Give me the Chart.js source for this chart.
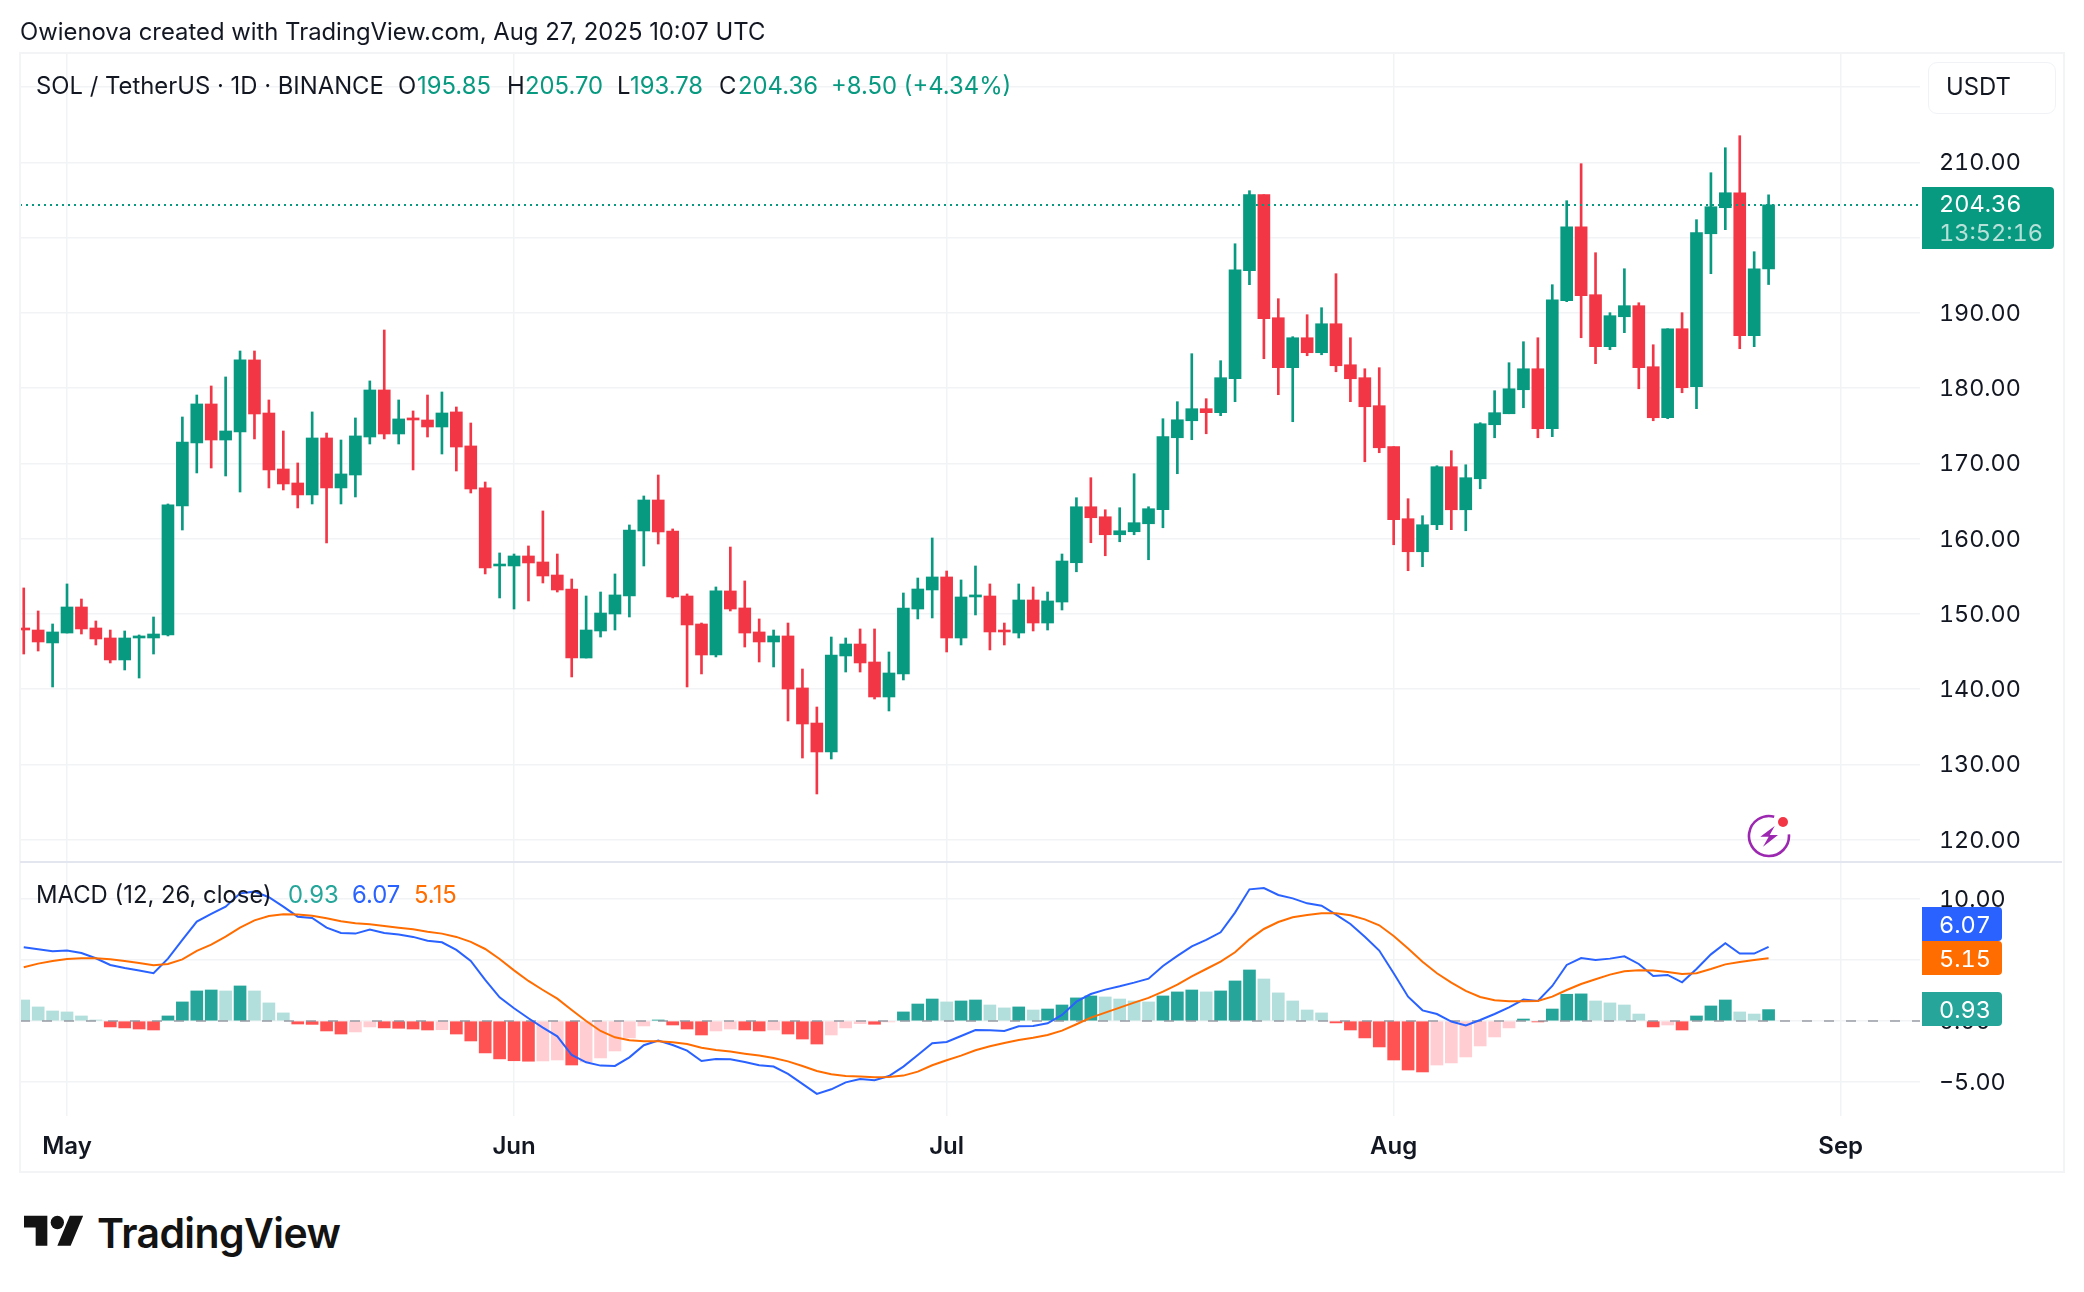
<!DOCTYPE html>
<html><head><meta charset="utf-8"><title>SOL / TetherUS</title>
<script src="https://cdn.jsdelivr.net/npm/chart.js@4/dist/chart.umd.min.js"></script>
<style>
html,body{margin:0;padding:0;background:#fff;width:2084px;height:1292px;overflow:hidden}
canvas{position:absolute;left:0;font-feature-settings:"tnum";font-variant-numeric:tabular-nums}
.t{position:absolute;white-space:pre;font:400 23.85px Inter,sans-serif;line-height:28px;color:#131722}
.n{font-size:23.5px;font-feature-settings:"tnum"}
.g{color:#089981}
.box{position:absolute;left:1922px;border-radius:0 4px 4px 0}
</style></head><body>
<canvas id="price" width="2084" height="862" style="top:0"></canvas>
<canvas id="macd" width="2084" height="311" style="top:862px"></canvas>
<div style="position:absolute;left:19px;top:52px;width:2042px;height:1117px;border:2px solid #f3f4f6;pointer-events:none"></div>
<div style="position:absolute;left:20px;top:861px;width:2042px;height:2px;background:#e3e6ee"></div>

<div class="t" style="left:20px;top:18px">Owienova created with TradingView.com, Aug 27, 2025 10:07 UTC</div>
<div class="t" style="left:36px;top:72px">SOL / TetherUS · 1D · BINANCE</div>
<div class="t" style="left:398px;top:72px">O</div><div class="t g" style="left:417px;top:72px">195.85</div>
<div class="t" style="left:507px;top:72px">H</div><div class="t g" style="left:525px;top:72px">205.70</div>
<div class="t" style="left:617px;top:72px">L</div><div class="t g" style="left:630px;top:72px">193.78</div>
<div class="t" style="left:719px;top:72px">C</div><div class="t g" style="left:738px;top:72px">204.36</div>
<div class="t g" style="left:831px;top:72px">+8.50 (+4.34%)</div>

<div style="position:absolute;left:1928px;top:62px;width:126px;height:50px;border:1.5px solid #f0f2f5;border-radius:9px;background:#fff"></div>
<div class="t" style="left:1946px;top:73px">USDT</div>

<div class="box" style="top:187px;height:62px;width:132px;background:#089981"></div>
<div class="t n" style="left:1939px;top:190px;color:#fff">204.36</div>
<div class="t n" style="left:1939px;top:219px;color:rgba(255,255,255,.7)">13:52:16</div>

<div class="t" style="left:36px;top:881px">MACD (12, 26, close)</div>
<div class="t" style="left:288px;top:881px;color:#26a69a">0.93</div>
<div class="t" style="left:352px;top:881px;color:#2962ff">6.07</div>
<div class="t" style="left:414px;top:881px;color:#ff6d00">5.15</div>

<div class="box" style="top:907px;height:34px;width:80px;background:#2962ff"></div>
<div class="t n" style="left:1939px;top:911px;color:#fff">6.07</div>
<div class="box" style="top:941px;height:34px;width:80px;background:#ff6d00"></div>
<div class="t n" style="left:1939px;top:945px;color:#fff">5.15</div>
<div class="box" style="top:992px;height:34px;width:80px;background:#26a69a"></div>
<div class="t n" style="left:1939px;top:996px;color:#fff">0.93</div>

<svg style="position:absolute;left:1745px;top:812px" width="48" height="48" viewBox="0 0 48 48">
<path d="M43.9 22.3A20 20 0 1 1 29.2 4.7" fill="none" stroke="#9c27b0" stroke-width="2.6"/>
<polygon points="29.7,14 15.3,24.7 23.7,24.7 18,34.7 33,23 24.7,23" fill="#9c27b0"/>
<circle cx="38" cy="10" r="5" fill="#f23645"/></svg>

<svg style="position:absolute;left:24px;top:1209px" width="60" height="47" viewBox="0 0 36 28">
<path d="M14 22H7V11H0V4h14v18zM28 22h-8l7.5-18h8L28 22z" fill="#131313"/><circle cx="20" cy="8" r="4" fill="#131313"/></svg>
<div class="t" style="left:97px;top:1208px;font-size:41px;line-height:50px;font-weight:600;color:#131313;letter-spacing:-.6px">TradingView</div>

<script>
const firstDay = -3;
const monthTickDays = [0, 31, 61, 92, 123];
const monthTickLabels = ['May', 'Jun', 'Jul', 'Aug', 'Sep'];
const priceTicks = [120, 130, 140, 150, 160, 170, 180, 190, 200, 210, 220];
const hiddenPriceTicks = [200, 220];
const macdTicks = [-5, 0, 5, 10];
const lastClose = 204.36;

const opens = [148.14,147.87,146.15,147.47,150.93,148.14,146.81,143.89,146.81,146.81,147.21,164.35,172.73,177.91,173.12,174.19,183.76,176.71,169.27,167.41,165.82,173.39,166.75,168.47,173.52,179.77,173.92,176.05,175.78,174.85,176.85,172.33,166.75,156.38,156.38,157.71,156.91,155.18,153.32,144.15,147.74,150.00,152.39,161.03,165.15,161.03,152.39,148.67,144.55,153.06,150.80,147.61,146.28,147.08,140.17,135.51,131.66,144.42,146.01,143.62,138.97,142.03,150.66,153.19,154.92,146.81,152.26,152.39,147.87,147.47,151.86,148.80,151.59,156.81,164.25,162.92,160.53,160.93,161.99,163.85,173.42,175.68,177.28,176.75,181.26,195.62,205.72,189.37,182.73,186.71,184.72,188.57,183.12,181.40,177.68,172.23,162.66,158.27,161.86,169.57,163.85,167.97,175.15,176.61,179.80,182.59,174.62,191.63,201.46,192.43,185.52,189.50,190.97,182.86,176.08,187.91,180.20,200.53,203.99,205.98,186.98,195.85];
const highs = [153.46,150.40,148.67,153.99,151.99,149.07,147.87,147.74,147.21,149.60,164.62,176.18,179.10,180.30,181.50,184.95,184.95,178.44,174.32,170.07,176.85,174.05,173.12,176.05,180.97,187.74,178.44,176.98,179.10,179.50,177.51,175.38,167.54,158.11,157.97,159.04,163.69,157.97,154.65,152.39,152.92,155.32,161.83,165.68,168.47,161.30,152.66,148.80,153.59,158.90,154.39,149.34,147.87,148.80,142.69,137.64,146.94,146.81,148.01,148.01,144.95,152.79,154.78,160.10,155.71,154.52,156.38,153.99,148.80,153.99,153.59,152.92,157.97,165.45,168.11,163.85,164.12,168.64,164.25,175.95,178.21,184.59,178.61,183.66,199.20,206.25,205.72,191.90,186.85,189.77,190.70,195.22,186.71,182.59,182.73,172.23,165.32,163.06,169.70,171.70,169.83,175.42,179.67,183.39,186.18,186.71,193.76,204.92,209.84,198.01,190.04,195.88,191.36,185.78,187.91,190.04,202.40,208.64,211.96,213.56,198.14,205.70];
const lows = [144.68,145.08,140.30,147.47,147.34,145.88,143.49,142.56,141.49,144.68,147.08,161.16,168.74,169.40,168.34,166.21,173.26,166.75,166.48,164.09,164.62,159.44,164.62,165.55,172.59,173.26,172.59,169.14,173.52,171.26,169.00,166.08,155.32,152.13,150.66,151.73,154.12,152.92,141.63,144.15,146.94,147.87,149.60,156.38,159.30,152.13,140.30,142.03,144.29,150.40,145.61,143.62,142.96,135.78,130.86,126.08,130.73,142.29,142.29,138.70,137.11,141.23,149.34,149.47,144.95,145.88,149.87,145.22,145.88,146.81,147.74,147.87,150.53,155.61,159.47,157.74,159.60,160.53,157.21,161.46,168.64,173.16,173.95,176.35,178.21,193.76,183.92,179.14,175.55,184.32,184.45,182.19,178.21,170.23,171.43,159.20,155.75,156.28,161.20,161.20,161.06,166.64,173.42,176.61,177.41,173.42,173.56,191.50,186.71,183.26,185.12,187.38,179.93,175.68,175.95,179.40,177.28,195.22,201.07,185.25,185.52,193.78];
const closes = [147.87,146.28,147.61,150.93,148.01,146.68,143.89,146.81,147.08,147.34,164.49,172.86,177.91,173.12,174.32,183.76,176.58,169.14,167.28,165.82,173.39,166.75,168.61,173.66,179.77,173.92,175.92,175.78,174.85,176.71,172.19,166.61,156.11,156.64,157.71,156.78,155.05,153.19,144.15,147.87,150.13,152.53,161.16,165.15,160.90,152.26,148.54,144.55,153.06,150.66,147.47,146.28,147.08,140.03,135.38,131.66,144.55,146.01,143.49,138.97,142.16,150.80,153.32,154.92,146.81,152.26,152.53,147.61,147.61,151.86,148.80,151.73,157.04,164.25,162.79,160.53,161.06,162.13,163.99,173.56,175.81,177.28,176.75,181.40,195.75,205.72,189.24,182.73,186.71,184.72,188.57,182.99,181.26,177.54,172.09,162.53,158.27,161.86,169.57,163.85,168.11,175.28,176.75,179.93,182.59,174.62,191.76,201.46,192.29,185.52,189.64,190.97,182.73,176.08,187.91,180.07,200.67,204.12,205.98,186.98,195.88,204.36];

const histogram = [1.72,1.15,.82,.74,.41,.08,-.49,-.57,-.66,-.74,.41,1.56,2.46,2.54,2.46,2.87,2.46,1.48,.66,-.25,-.28,-.82,-1.07,-.90,-.49,-.57,-.60,-.66,-.74,-.72,-1.07,-1.64,-2.62,-3.11,-3.26,-3.30,-3.28,-3.20,-3.61,-3.36,-3.03,-2.46,-1.39,-.41,.08,-.33,-.66,-1.15,-.82,-.66,-.74,-.82,-.74,-1.07,-1.48,-1.89,-1.15,-.57,-.22,-.27,-.08,.74,1.39,1.80,1.56,1.64,1.72,1.31,1.07,1.15,.90,.98,1.31,1.89,2.05,1.97,1.80,1.64,1.56,2.05,2.38,2.54,2.38,2.46,3.28,4.18,3.44,2.30,1.64,.90,.66,-.16,-.74,-1.39,-2.13,-3.20,-4.02,-4.18,-3.61,-3.44,-2.95,-2.05,-1.31,-.57,.16,-.08,.98,2.19,2.22,1.64,1.48,1.31,.57,-.49,-.33,-.74,.41,1.23,1.72,.74,.57,.93];
const macdLine = [6.04,5.87,5.71,5.77,5.57,5.14,4.59,4.34,4.13,3.91,5.11,6.64,8.14,8.77,9.37,10.46,10.60,10.14,9.37,8.55,8.44,7.65,7.21,7.16,7.49,7.21,7.08,6.89,6.58,6.45,5.82,4.92,3.36,1.94,1.04,.22,-.55,-1.26,-2.79,-3.39,-3.66,-3.69,-2.98,-1.99,-1.61,-1.97,-2.43,-3.28,-3.11,-3.14,-3.36,-3.63,-3.74,-4.34,-5.16,-5.98,-5.60,-5.03,-4.75,-4.86,-4.51,-3.74,-2.79,-1.83,-1.72,-1.23,-.74,-.77,-.82,-.44,-.41,-.19,.49,1.58,2.21,2.57,2.84,3.14,3.47,4.51,5.33,6.12,6.64,7.27,8.88,10.79,10.90,10.33,10.05,9.64,9.45,8.72,7.95,6.91,5.77,3.91,1.99,.87,.57,-.05,-.36,.08,.57,1.12,1.75,1.64,2.87,4.59,5.16,5.00,5.11,5.30,4.67,3.69,3.77,3.17,4.26,5.46,6.37,5.52,5.52,6.07];
const signalLine = [4.40,4.70,4.92,5.08,5.14,5.14,5.05,4.92,4.75,4.56,4.67,5.05,5.74,6.26,6.91,7.65,8.25,8.61,8.74,8.72,8.63,8.42,8.17,8.01,7.92,7.79,7.65,7.51,7.32,7.16,6.89,6.48,5.90,5.08,4.15,3.28,2.54,1.83,.90,0,-.82,-1.34,-1.58,-1.67,-1.67,-1.75,-1.89,-2.19,-2.38,-2.51,-2.68,-2.84,-3.03,-3.31,-3.69,-4.10,-4.37,-4.51,-4.56,-4.62,-4.59,-4.48,-4.15,-3.63,-3.22,-2.84,-2.40,-2.08,-1.80,-1.56,-1.37,-1.15,-.79,-.27,.27,.68,1.09,1.50,1.89,2.40,2.98,3.66,4.26,4.86,5.63,6.69,7.54,8.11,8.50,8.69,8.83,8.83,8.66,8.33,7.84,6.97,5.93,4.86,3.91,3.14,2.46,1.97,1.69,1.61,1.61,1.64,1.99,2.54,3.03,3.42,3.80,4.07,4.15,4.13,4.02,3.85,3.91,4.26,4.64,4.84,5.00,5.15];

const UP = '#089981', DOWN = '#f23645';
const GRID = '#f2f3f5', TEXT = '#131722';
const X_MIN = -3.26, X_MAX = 128.5;
const days = opens.map((_, i) => firstDay + i);
const candleColors = opens.map((o, i) => closes[i] >= o ? UP : DOWN);
const histColors = histogram.map((v, i) => {
  const prev = i ? histogram[i - 1] : Infinity;
  if (v >= 0) return v > prev ? '#26a69a' : '#b2dfdb';
  return v < prev ? '#ff5252' : '#ffcdd2';
});
const font = { family: 'Inter, sans-serif', size: 23.3 };

function xAxis(showLabels) {
  return {
    type: 'linear', min: X_MIN, max: X_MAX, offset: false,
    afterBuildTicks: s => { s.ticks = monthTickDays.map(value => ({ value })); },
    grid: { color: GRID, lineWidth: 1.5, drawTicks: false, offset: false },
    border: { display: false },
    afterFit: s => { s.height = showLabels ? 56 : 0; s.paddingLeft = s.paddingRight = s.paddingTop = s.paddingBottom = 0; },
    ticks: {
      display: showLabels, autoSkip: false, maxRotation: 0, minRotation: 0, padding: 16,
      color: TEXT, font: { ...font, size: 24, weight: '600' },
      callback: v => monthTickLabels[monthTickDays.indexOf(v)] ?? ''
    }
  };
}
function yAxis(min, max, tickValues, fmt) {
  return {
    type: 'linear', position: 'right', min, max,
    afterBuildTicks: s => { s.ticks = tickValues.map(value => ({ value })); },
    afterFit: s => { s.width = 144; s.paddingLeft = s.paddingRight = s.paddingTop = s.paddingBottom = 0; },
    grid: { color: GRID, lineWidth: 1.5, drawTicks: false },
    border: { display: false },
    ticks: { padding: 19, labelOffset: 1, color: TEXT, font, autoSkip: false, callback: fmt }
  };
}
const base = (top, bottom) => ({
  responsive: false, animation: false, devicePixelRatio: 1,
  layout: { padding: { left: 20, right: 20, top, bottom } },
  plugins: { legend: { display: false }, tooltip: { enabled: false } }
});

new Chart(document.getElementById('price'), {
  type: 'bar',
  data: { datasets: [
    { type: 'line', data: [{ x: X_MIN, y: lastClose }, { x: X_MAX, y: lastClose }], borderColor: UP, borderWidth: 2, borderDash: [2, 4], pointRadius: 0 },
    { data: days.map((x, i) => ({ x, y: [opens[i], closes[i]] })), backgroundColor: candleColors, barThickness: 12, grouped: false, borderWidth: 0 },
    { data: days.map((x, i) => ({ x, y: [lows[i], highs[i]] })), backgroundColor: candleColors, barThickness: 2, grouped: false, borderWidth: 0 }
  ] },
  options: { ...base(53, 0), scales: {
    x: xAxis(false),
    y: yAxis(117.04, 224.55, priceTicks, v => hiddenPriceTicks.includes(v) ? '' : v.toFixed(2))
  } }
});

new Chart(document.getElementById('macd'), {
  type: 'bar',
  data: { datasets: [
    { type: 'line', data: days.map((x, i) => ({ x, y: signalLine[i] })), borderColor: '#ff6d00', borderWidth: 2, pointRadius: 0, tension: 0 },
    { type: 'line', data: days.map((x, i) => ({ x, y: macdLine[i] })), borderColor: '#2962ff', borderWidth: 2, pointRadius: 0, tension: 0 },
    { type: 'line', data: [{ x: X_MIN, y: 0 }, { x: X_MAX, y: 0 }], borderColor: 'rgba(120,123,134,.55)', borderWidth: 2, borderDash: [10, 12], pointRadius: 0 },
    { data: days.map((x, i) => ({ x, y: histogram[i] })), backgroundColor: histColors, barThickness: 12, grouped: false, borderWidth: 0 }
  ] },
  options: { ...base(0, 1), scales: {
    x: xAxis(true),
    y: yAxis(-7.79, 13.03, macdTicks, v => (v < 0 ? '\u2212' + Math.abs(v).toFixed(2) : v.toFixed(2)))
  } }
});
</script>
</body></html>
